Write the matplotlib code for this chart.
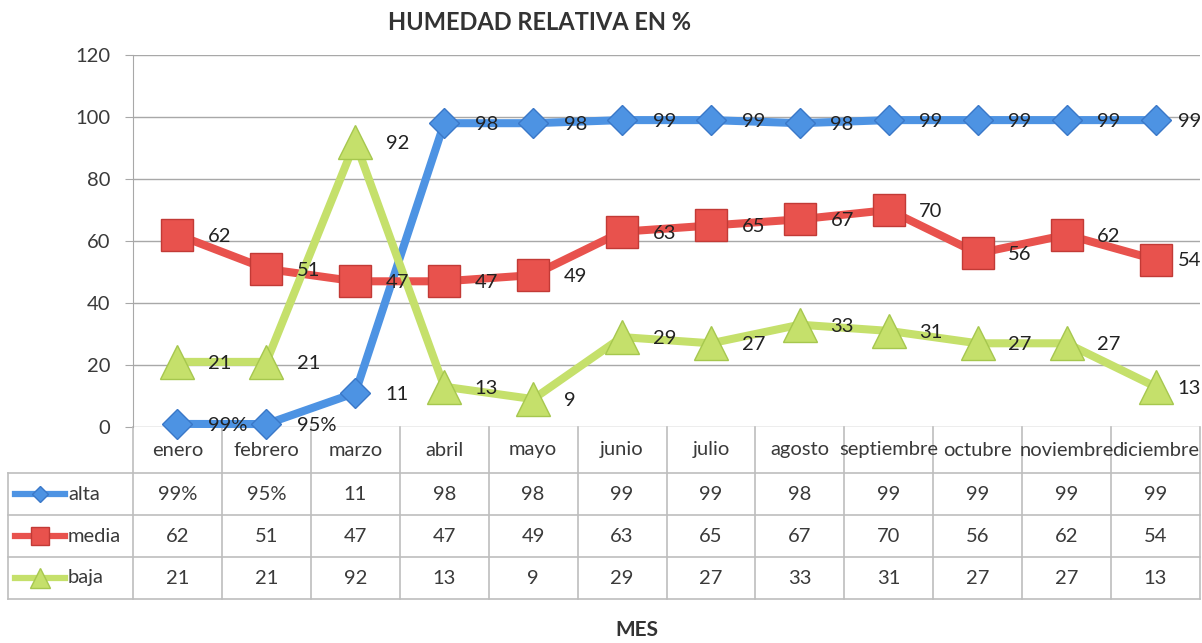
import numpy as np
import matplotlib
matplotlib.use("Agg")
import matplotlib.pyplot as plt
from matplotlib.lines import Line2D
import matplotlib.transforms as mtransforms

plt.rcParams['font.family'] = ['Lato', 'DejaVu Sans']

# =========================
# Datos
# =========================
meses = ["enero", "febrero", "marzo", "abril", "mayo", "junio", "julio",
         "agosto", "septiembre", "octubre", "noviembre", "diciembre"]

alta = [0.99, 0.95, 11, 98, 98, 99, 99, 98, 99, 99, 99, 99]
alta_txt = ["99%", "95%", "11", "98", "98", "99", "99", "98", "99", "99", "99", "99"]
media = [62, 51, 47, 47, 49, 63, 65, 67, 70, 56, 62, 54]
media_txt = [str(v) for v in media]
baja = [21, 21, 92, 13, 9, 29, 27, 33, 31, 27, 27, 13]
baja_txt = [str(v) for v in baja]

series = [
    ("alta", alta, alta_txt, "#4D93E3", "#3A78C8", "D", 15),
    ("media", media, media_txt, "#E8524D", "#C23A36", "s", 23),
    ("baja", baja, baja_txt, "#C5E06B", "#A6C74E", "^", 25),
]

W, H = 1202, 643
def fx(px): return px / W
def fy(py): return 1 - py / H

GRID = "#A8A8A8"
TABLE = "#BEBEBE"
TXT = "#3A3A3A"
FS = 14.5

fig = plt.figure(figsize=(W / 100, H / 100), dpi=100)
fig.patch.set_facecolor("white")
left, right, top, bot = 133, 1200, 55, 427
ax = fig.add_axes([fx(left), fy(bot), fx(right - left), (bot - top) / H])

x = np.arange(len(meses))
for i, (nombre, vals, txts, col, edge, mk, ms) in enumerate(series):
    ax.plot(x, vals, color=col, lw=5.8, marker=mk, markersize=ms,
            markerfacecolor=col, markeredgecolor=edge, markeredgewidth=1.0,
            clip_on=False, zorder=3 + i, solid_capstyle="round")
for nombre, vals, txts, col, edge, mk, ms in series:
    for xi, v, t in zip(x, vals, txts):
        dx = 22 if xi < len(meses) - 1 else 16
        ax.annotate(t, (xi, v), xytext=(dx, -1), textcoords="offset points",
                    ha="left", va="center", fontsize=FS, color="#222222",
                    zorder=10, annotation_clip=False)

ax.set_xlim(-0.5, len(meses) - 0.5)
ax.set_ylim(0, 120)
ax.set_yticks(range(0, 121, 20))
ax.yaxis.grid(True, color=GRID, lw=1.0)
ax.set_axisbelow(True)
ax.set_xticks([])
for s in ["top", "right", "bottom"]:
    ax.spines[s].set_visible(False)
ax.spines["left"].set_color(GRID)
ax.tick_params(axis="y", length=6, color=GRID, labelsize=FS, labelcolor=TXT, pad=10.5)
ax.set_facecolor("none")

# Tabla de datos
rows_px = [427, 473, 515, 557, 599]
lbl_left = 8
for yb in rows_px[1:]:
    fig.add_artist(Line2D([fx(lbl_left), fx(right)], [fy(yb), fy(yb)], color=TABLE, lw=1.2))
fig.add_artist(Line2D([fx(lbl_left), fx(lbl_left)], [fy(rows_px[1]), fy(rows_px[-1])], color=TABLE, lw=1.2))

trans = mtransforms.blended_transform_factory(ax.transData, fig.transFigure)
for xb in np.arange(len(meses) + 1) - 0.5:
    ax.add_artist(Line2D([xb, xb], [fy(rows_px[0]), fy(rows_px[-1])], transform=trans,
                         color=TABLE, lw=1.2, clip_on=False))

def centro(r): return fy((rows_px[r] + rows_px[r + 1]) / 2)

for xi, m in zip(x, meses):
    ax.text(xi, centro(0), m, transform=trans, ha="center", va="center",
            fontsize=FS, color=TXT, clip_on=False)
for r, (nombre, vals, txts, col, edge, mk, ms) in enumerate(series, start=1):
    for xi, t in zip(x, txts):
        ax.text(xi, centro(r), t, transform=trans, ha="center", va="center",
                fontsize=FS, color=TXT, clip_on=False)
    yc = centro(r)
    fig.add_artist(Line2D([fx(15), fx(65)], [yc, yc], color=col, lw=4.5))
    fig.add_artist(Line2D([fx(40)], [yc], color=col, marker=mk, markersize=ms * 0.55,
                          markerfacecolor=col, markeredgecolor=edge, lw=0))
    fig.text(fx(68), yc, nombre, ha="left", va="center", fontsize=FS, color=TXT)

fig.text(fx(540), fy(22), "HUMEDAD RELATIVA EN %", ha="center", va="center",
         fontsize=17, fontweight="bold", color="#333333")
fig.text(fx(637), fy(630), "MES", ha="center", va="center",
         fontsize=15, fontweight="bold", color="#333333")

fig.savefig("out.png", dpi=100)
